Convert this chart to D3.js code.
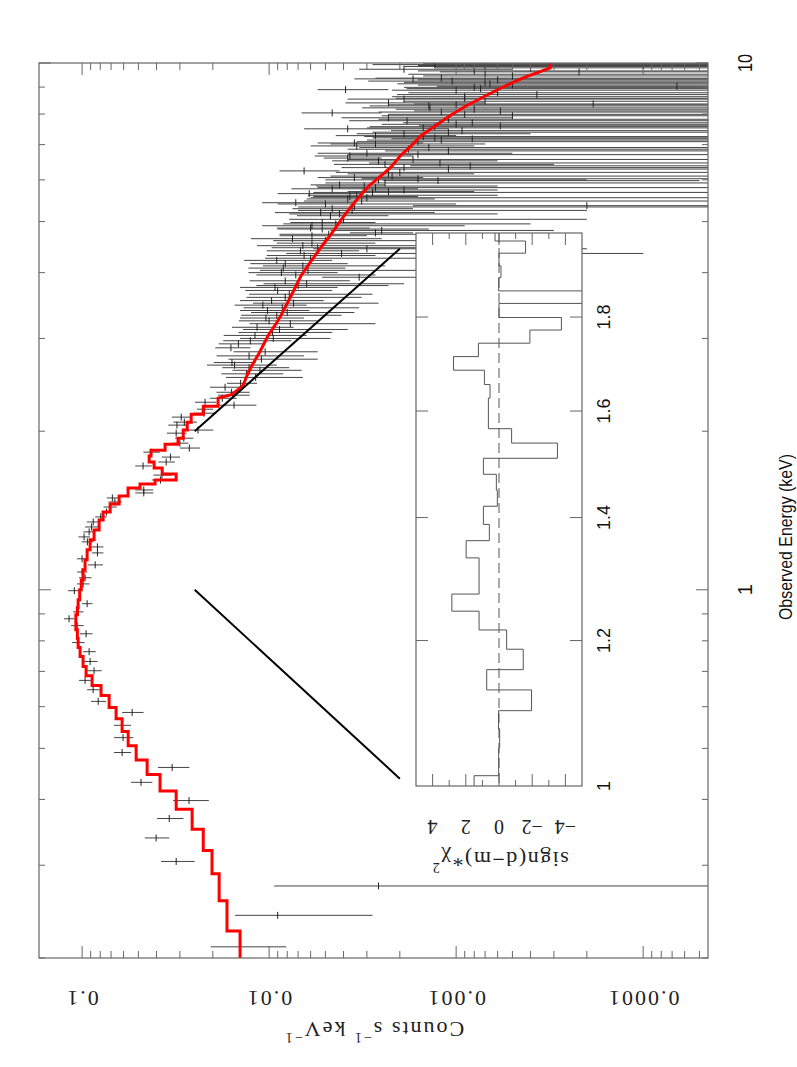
<!DOCTYPE html>
<html>
<head>
<meta charset="utf-8">
<script src="https://cdn.jsdelivr.net/npm/d3@7"></script>
<style>
  body { margin: 0; background: #fff; }
  .serif { font-family: "Liberation Serif", "DejaVu Serif", serif; }
  .sans { font-family: "Liberation Sans", Arial, sans-serif; }
</style>
</head>
<body>
<svg width="797" height="1067"></svg>
<script>
// ---- spectrum data (keV, counts s-1 keV-1) ----
var energy = [
  0.210, 0.241, 0.274, 0.305, 0.338, 0.368, 0.398, 0.431, 0.460, 0.491,
  0.524, 0.553, 0.585, 0.614, 0.646, 0.673, 0.702, 0.731, 0.763, 0.794,
  0.825, 0.855, 0.881, 0.908, 0.941, 0.996, 1.026, 1.054, 1.081, 1.115,
  1.145, 1.175, 1.206, 1.233, 1.260, 1.288, 1.316, 1.345, 1.375, 1.405,
  1.436, 1.468, 1.494, 1.527, 1.547, 1.616, 1.651, 1.718, 1.748, 1.786,
  1.825, 1.858, 1.898, 1.940, 1.983, 2.010, 2.054, 2.081, 2.127, 2.164,
  2.202, 2.241, 2.270, 2.310, 2.341, 2.371, 2.424, 2.466,
  2.57, 2.61, 2.67, 2.70, 2.78, 2.88, 2.93, 2.97, 3.04, 3.08,
  3.15, 3.20, 3.28, 3.32, 3.39, 3.47, 3.54, 3.59, 3.70, 3.75,
  3.81, 3.86, 3.92, 4.00, 4.08, 4.16, 4.22, 4.31, 4.35, 4.40,
  4.44, 4.50, 4.55, 4.64, 4.70, 4.76, 4.81, 4.86, 4.91, 4.98,
  5.13, 5.20, 5.29, 5.36, 5.40,
  5.43, 5.52, 5.58, 5.65, 5.70, 5.74, 5.77, 5.87, 5.98, 6.03,
  6.06, 6.16, 6.24, 6.29, 6.38, 6.46, 6.52, 6.60, 6.66, 6.74,
  6.81, 6.96, 7.02, 7.05, 7.18, 7.21, 7.28, 7.34, 7.44, 7.50,
  7.53, 7.60, 7.70, 7.77, 7.87, 7.94, 8.04, 8.11, 8.22, 8.29,
  8.36, 8.40, 8.54, 8.57, 8.71, 8.88, 8.90, 8.94, 9.03, 9.13,
  9.24, 9.33, 9.36, 9.62, 9.66, 9.73, 9.85, 9.89, 9.93,
  // narrower bins in between, above 2.5 keV
  2.53, 2.64, 2.74, 2.83, 3.00, 3.12, 3.24, 3.36, 3.43, 3.50,
  3.64, 3.78, 3.96, 4.04, 4.12, 4.26, 4.46, 4.60, 4.73, 4.84,
  4.95, 5.05, 5.17, 5.25, 5.33,
  5.47, 5.55, 5.61, 5.68, 5.80, 5.84, 5.92, 6.00, 6.10, 6.20,
  6.33, 6.42, 6.56, 6.70, 6.86, 6.91, 7.09, 7.14, 7.25, 7.39,
  7.57, 7.65, 7.82, 7.99, 8.07, 8.17, 8.33, 8.46, 8.63, 8.78,
  8.99, 9.08, 9.19, 9.29, 9.45, 9.52, 9.79, 9.97
];
var rate = [
  0.0143, 0.0090, 0.0026, 0.0314, 0.0402, 0.0342, 0.0268, 0.0484, 0.0330, 0.0611,
  0.0604, 0.0611, 0.0540, 0.0820, 0.0873, 0.0964, 0.0863, 0.0906, 0.0917, 0.1050,
  0.0952, 0.1063, 0.1174, 0.1050, 0.0940, 0.1100, 0.0988, 0.0964, 0.1000, 0.0851,
  0.1000, 0.0828, 0.0828, 0.0937, 0.0976, 0.0917, 0.0891, 0.0872, 0.0795, 0.0740,
  0.0710, 0.0668, 0.0689, 0.0468, 0.0468, 0.0381, 0.0374, 0.0472, 0.0355, 0.0337,
  0.0427, 0.0267, 0.0300, 0.0286, 0.0314, 0.0240, 0.0311, 0.0284, 0.0295, 0.0223,
  0.0221, 0.0154, 0.0220, 0.0178, 0.0157, 0.0159, 0.0172, 0.0142,
  0.0132, 0.0112, 0.0153, 0.0158, 0.0128, 0.0160, 0.0146, 0.0126, 0.0119, 0.0096,
  0.0116, 0.0077, 0.0104, 0.0091, 0.0102, 0.0108, 0.0097, 0.0082, 0.0090, 0.0093,
  0.0063, 0.0082, 0.0033, 0.0086, 0.0084, 0.0082, 0.0091, 0.0065, 0.0041, 0.0068,
  0.0030, 0.0066, 0.0059, 0.0075, 0.0059, 0.0027, 0.0025, 0.0060, 0.0059, 0.0052,
  0.0047, 0.0053, 0.0046, 0.0002, 0.0050,
  0.0072, 0.0038, 0.0037, 0.0061, 0.0023, 0.0019, 0.0046, 0.0042, 0.00125, 0.0016,
  0.0035, 0.0023, 0.0065, 0.0011, 0.00084, 0.00122, 0.0026, 0.0038, 0.0037, 0.0030,
  0.0011, 0.0034, 0.0027, 0.0035, 0.00082, 0.0013, 0.0027, 0.0019, 0.00093, 0.0038,
  0.0015, 0.00058, 0.00082, 0.00183, 0.0023, 0.0005, 0.0046, 0.00058, 0.00138, 0.0014,
  0.000185, 0.0023, 0.0019, 0.0009, 0.00037, 0.0010, 0.0039, 0.00074, 0.000066, 0.00066,
  0.00105, 0.0017, 0.0012, 0.00022, 0.0008, 0.0019, 0.0007, 0.0001, 0.0013,
  0.0118, 0.0128, 0.0110, 0.0105, 0.0095, 0.0088, 0.0100, 0.0080, 0.0085, 0.0074,
  0.0078, 0.0070, 0.0072, 0.0062, 0.0066, 0.0060, 0.0055, 0.0050, 0.0048, 0.0052,
  0.0044, 0.0040, 0.0042, 0.0036, 0.0035,
  0.0032, 0.0030, 0.0034, 0.0028, 0.0027, 0.0031, 0.0024, 0.0026, 0.0022, 0.0020,
  0.0019, 0.0024, 0.0017, 0.0016, 0.0018, 0.0014, 0.0016, 0.0012, 0.0015, 0.0011,
  0.0013, 0.0010, 0.0011, 0.0009, 0.0012, 0.0008, 0.0010, 0.0007, 0.0009, 0.0006,
  0.0008, 0.0005, 0.0007, 0.0006, 0.0005, 0.0007, 0.0004, 0.0005
];
var rateErr = [
  0.0062, 0.0062, 0.0068, 0.0064, 0.0060, 0.0055, 0.0058, 0.0063, 0.0063, 0.0064,
  0.0071, 0.0064, 0.0071, 0.0075, 0.0067, 0.0074, 0.0077, 0.0080, 0.0071, 0.0080,
  0.0073, 0.0082, 0.0076, 0.0067, 0.0060, 0.0088, 0.0075, 0.0074, 0.0063, 0.0078,
  0.0065, 0.0059, 0.0059, 0.0067, 0.0070, 0.0067, 0.0073, 0.0071, 0.0056, 0.0045,
  0.0058, 0.0055, 0.0049, 0.0052, 0.0052, 0.0043, 0.0042, 0.0048, 0.0036, 0.0038,
  0.0043, 0.0033, 0.0030, 0.0032, 0.0038, 0.0041, 0.0035, 0.0041, 0.0036, 0.0031,
  0.0022, 0.0037, 0.0029, 0.0029, 0.0030, 0.0032, 0.0035, 0.0026,
  0.0048, 0.0045, 0.0062, 0.0040, 0.0063, 0.0034, 0.0040, 0.0050, 0.0056, 0.0050,
  0.0042, 0.0050, 0.0039, 0.0050, 0.0041, 0.0045, 0.0046, 0.0050, 0.0044, 0.0050,
  0.0044, 0.0045, 0.0019, 0.0043, 0.0045, 0.0044, 0.0045, 0.0038, 0.0040, 0.0035,
  0.0028, 0.0050, 0.0032, 0.0050, 0.0029, 0.0010, 0.0022, 0.0031, 0.0050, 0.0025,
  0.0024, 0.0040, 0.0029, 0.0015, 0.0040,
  0.0037, 0.0025, 0.0021, 0.0029, 0.0015, 0.0013, 0.0030, 0.0018, 0.0012, 0.0016,
  0.0020, 0.0015, 0.0023, 0.0012, 0.00092, 0.0017, 0.0020, 0.0013, 0.0020, 0.0025,
  0.0013, 0.0026, 0.0020, 0.0020, 0.0014, 0.0015, 0.0017, 0.0015, 0.0013, 0.0027,
  0.0015, 0.0010, 0.0011, 0.0019, 0.0018, 0.0020, 0.0021, 0.0011, 0.0018, 0.0015,
  0.0015, 0.0016, 0.0019, 0.0012, 0.0017, 0.0012, 0.0016, 0.0011, 0.0012, 0.0014,
  0.0019, 0.0018, 0.0015, 0.0010, 0.0008, 0.0014, 0.0012, 0.0015, 0.0015,
  0.0052, 0.0050, 0.0055, 0.0050, 0.0048, 0.0050, 0.0045, 0.0045, 0.0052, 0.0048,
  0.0050, 0.0047, 0.0045, 0.0050, 0.0042, 0.0045, 0.0042, 0.0045, 0.0040, 0.0038,
  0.0040, 0.0038, 0.0036, 0.0034, 0.0035,
  0.0033, 0.0030, 0.0028, 0.0030, 0.0028, 0.0025, 0.0026, 0.0024, 0.0025, 0.0024,
  0.0022, 0.0021, 0.0021, 0.0022, 0.0020, 0.0019, 0.0018, 0.0018, 0.0016, 0.0017,
  0.0016, 0.0015, 0.0015, 0.0014, 0.0014, 0.0013, 0.0013, 0.0012, 0.0013, 0.0012,
  0.0011, 0.0011, 0.0012, 0.0010, 0.0010, 0.0011, 0.0009, 0.0010
];

// ---- folded model ----
var modelEdges = [
  0.2, 0.225, 0.257, 0.289, 0.320, 0.351, 0.383, 0.415, 0.446, 0.475,
  0.506, 0.538, 0.569, 0.598, 0.630, 0.658, 0.687, 0.715, 0.747, 0.777,
  0.808, 0.840, 0.870, 0.897, 0.924, 0.957, 1.0, 1.044, 1.091, 1.140,
  1.191, 1.244, 1.299, 1.357, 1.405, 1.455, 1.507, 1.560, 1.588, 1.616,
  1.659, 1.702, 1.748, 1.794, 1.841, 1.890, 1.940, 2.01, 2.081, 2.154,
  2.231, 2.310, 2.39, 2.50, 2.61, 2.73, 2.85, 2.97, 3.11, 3.25,
  3.39, 3.54, 3.70, 3.86, 4.04, 4.22, 4.40, 4.60, 4.81, 5.02,
  5.25, 5.48, 5.72, 5.98, 6.24, 6.52, 6.81, 7.12, 7.44, 7.77,
  8.11, 8.47, 8.85, 9.24, 9.57, 10.0
];
var modelRate = [
  0.0143, 0.0168, 0.0185, 0.0202, 0.0225, 0.0258, 0.0314, 0.0383, 0.0449, 0.0514,
  0.0567, 0.0611, 0.0658, 0.0717, 0.0792, 0.0884, 0.0952, 0.0988, 0.1025, 0.105,
  0.106, 0.108, 0.108, 0.106, 0.105, 0.103, 0.101, 0.0988, 0.0964, 0.094,
  0.0906, 0.0863, 0.0811, 0.0772, 0.0708, 0.0634, 0.0568, 0.049, 0.0407, 0.0314,
  0.0373, 0.0412, 0.0438, 0.0428, 0.036, 0.0307, 0.0288, 0.0274, 0.0261, 0.0225,
  0.01874, 0.01578, 0.01377, 0.01311, 0.01233, 0.01146, 0.01077, 0.01012, 0.00929, 0.00863,
  0.00811, 0.00762, 0.00717, 0.00674, 0.00619, 0.00568, 0.00521, 0.00472, 0.00433, 0.00397,
  0.0036, 0.00326, 0.00292, 0.00252, 0.0022, 0.00199, 0.00174, 0.00154, 0.00129, 0.00108,
  0.000885, 0.0007, 0.000547, 0.000428, 0.000314
];
// above this energy the model bins are fine enough to read as a smooth curve
var modelStepsBelow = 2.3;

// ---- residuals for the inset, sign(d-m)*chi^2 ----
var resEdges = [
  1.0, 1.013, 1.049, 1.074, 1.099, 1.128, 1.157, 1.187, 1.216, 1.245,
  1.272, 1.331, 1.360, 1.388, 1.420, 1.449, 1.478, 1.508, 1.537, 1.565,
  1.626, 1.654, 1.684, 1.713, 1.742, 1.771, 1.799, 1.831, 1.860, 1.891,
  1.919, 1.950, 1.980, 2.0
];
var resVal = [
  1.5, 0.02, -0.04, 0.03, -1.96, 0.74, -1.46, -0.46, 1.2, 2.84,
  1.2, 1.98, 0.58, 0.94, 0.1, 0.16, 0.94, -3.52, -0.76, 0.64,
  0.54, 0.88, 2.74, 1.24, -1.86, -3.76, 0.0, -6.0, 0.02, -0.12,
  0.0, -1.6, 0.24
];

// tick labels
var rateLabels = [0.1, 0.01, 0.001, 0.0001];
var energyLabels = [1, 10];
var insetELabels = [1, 1.2, 1.4, 1.6, 1.8];
var insetRLabels = [-4, -2, 0, 2, 4];

// guide lines from the 1-2 keV band towards the inset: [rate, energy]
var guideLines = [
  [[0.025, 1.0], [0.002, 0.438]],
  [[0.025, 2.0], [0.002, 4.44]]
];

var svg = d3.select("svg");
var frameCol = "#666";

// rate runs left -> right decreasing, energy bottom -> top
var x = d3.scaleLog().domain([0.17, 4.5e-5]).range([39, 708]);
var y = d3.scaleLog().domain([0.2, 10]).range([958, 63]);

svg.append("clipPath").attr("id", "main-clip")
  .append("rect")
  .attr("x", 39).attr("y", 63).attr("width", 708 - 39).attr("height", 958 - 63);

var plot = svg.append("g").attr("clip-path", "url(#main-clip)");

// data crosses
var pts = energy.map(function(e, i) { return { e: e, r: rate[i], s: rateErr[i] }; });
plot.selectAll(".ebar")
  .data(pts)
  .enter()
  .append("line")
    .attr("class", "ebar")
    .attr("x1", function(d) { return x(d.r + d.s); })
    .attr("x2", function(d) {
      var lo = d.r - d.s;
      return lo <= x.domain()[1] ? x.range()[1] + 2 : x(lo);
    })
    .attr("y1", function(d) { return y(d.e); })
    .attr("y2", function(d) { return y(d.e); })
    .attr("stroke", "#444")
    .attr("stroke-width", 1);

plot.selectAll(".ctick")
  .data(pts)
  .enter()
  .append("line")
    .attr("class", "ctick")
    .attr("x1", function(d) { return x(d.r); })
    .attr("x2", function(d) { return x(d.r); })
    .attr("y1", function(d) { return y(d.e) - 3.5; })
    .attr("y2", function(d) { return y(d.e) + 3.5; })
    .attr("stroke", "#222")
    .attr("stroke-width", 1);

// model: steps where bins are wide, bin centres above modelStepsBelow
var stepPts = [];
modelRate.forEach(function(r, i) {
  var lo = modelEdges[i], hi = modelEdges[i + 1];
  if (lo < modelStepsBelow) {
    stepPts.push([x(r), y(lo)]);
    stepPts.push([x(r), y(hi)]);
  } else {
    stepPts.push([x(r), y(Math.sqrt(lo * hi))]);
  }
});
stepPts.push([x(modelRate[modelRate.length - 1]), y(modelEdges[modelEdges.length - 1])]);
plot.append("path")
  .attr("d", d3.line()(stepPts))
  .attr("fill", "none")
  .attr("stroke", "#ff0000")
  .attr("stroke-width", 3)
  .attr("stroke-linejoin", "miter");

// guide lines
guideLines.forEach(function(g) {
  plot.append("line")
    .attr("x1", x(g[0][0])).attr("y1", y(g[0][1]))
    .attr("x2", x(g[1][0])).attr("y2", y(g[1][1]))
    .attr("stroke", "#000")
    .attr("stroke-width", 2);
});

// frame + ticks
svg.append("rect")
  .attr("x", 39).attr("y", 63).attr("width", 708 - 39).attr("height", 958 - 63)
  .attr("fill", "none").attr("stroke", frameCol).attr("stroke-width", 1.2);

function isDecade(v) { return Math.abs(Math.log10(v) - Math.round(Math.log10(v))) < 1e-6; }

var rTicks = x.ticks();
var eTicks = y.ticks();

var tickG = svg.append("g").attr("stroke", frameCol).attr("stroke-width", 1);
rTicks.forEach(function(v) {
  var len = isDecade(v) ? 12 : 7;
  tickG.append("line").attr("x1", x(v)).attr("x2", x(v)).attr("y1", 958).attr("y2", 958 - len);
  tickG.append("line").attr("x1", x(v)).attr("x2", x(v)).attr("y1", 63).attr("y2", 63 + len);
});
eTicks.forEach(function(v) {
  var len = isDecade(v) ? 12 : 6;
  tickG.append("line").attr("y1", y(v)).attr("y2", y(v)).attr("x1", 39).attr("x2", 39 + len);
  tickG.append("line").attr("y1", y(v)).attr("y2", y(v)).attr("x1", 708).attr("x2", 708 - len);
});

// rate labels, upside down
svg.selectAll(".rlab")
  .data(rateLabels)
  .enter()
  .append("text")
    .attr("class", "rlab serif")
    .attr("transform", function(d) { return "translate(" + x(d) + ",998) rotate(180)"; })
    .attr("text-anchor", "middle")
    .attr("dominant-baseline", "central")
    .attr("font-size", 22)
    .attr("letter-spacing", 2)
    .attr("fill", "#222")
    .text(function(d) { return d3.format("")(d); });

var ct = svg.append("text")
  .attr("class", "serif")
  .attr("transform", "translate(374,1030) rotate(180)")
  .attr("text-anchor", "middle")
  .attr("dominant-baseline", "central")
  .attr("font-size", 22)
  .attr("letter-spacing", 2)
  .attr("fill", "#222");
ct.append("tspan").text("Counts s");
ct.append("tspan").attr("baseline-shift", "super").attr("font-size", 14).text("\u22121");
ct.append("tspan").text(" keV");
ct.append("tspan").attr("baseline-shift", "super").attr("font-size", 14).text("\u22121");

// energy labels, rotated
svg.selectAll(".elab")
  .data(energyLabels)
  .enter()
  .append("text")
    .attr("class", "elab sans")
    .attr("transform", function(d) { return "translate(745," + y(d) + ") rotate(-90)"; })
    .attr("text-anchor", "middle")
    .attr("dominant-baseline", "central")
    .attr("font-size", 20)
    .attr("textLength", function(d) { return d < 10 ? null : 18; })
    .attr("lengthAdjust", "spacingAndGlyphs")
    .attr("fill", "#111")
    .text(function(d) { return d; });

svg.append("text")
  .attr("class", "sans")
  .attr("transform", "translate(785,537) rotate(-90)")
  .attr("text-anchor", "middle")
  .attr("dominant-baseline", "central")
  .attr("font-size", 19)
  .attr("textLength", 166)
  .attr("lengthAdjust", "spacingAndGlyphs")
  .attr("fill", "#111")
  .text("Observed Energy (keV)");

// ---- inset ----
var ix = d3.scaleLinear().domain([5, -5]).range([416, 582]);
var iy = d3.scaleLog().domain([1, 2]).range([786, 233]);

svg.append("rect")
  .attr("x", 416).attr("y", 233).attr("width", 582 - 416).attr("height", 786 - 233)
  .attr("fill", "#fff").attr("stroke", "none");

svg.append("clipPath").attr("id", "inset-clip")
  .append("rect")
  .attr("x", 416).attr("y", 233).attr("width", 582 - 416).attr("height", 786 - 233);

var inset = svg.append("g").attr("clip-path", "url(#inset-clip)");

inset.append("line")
  .attr("x1", ix(0)).attr("x2", ix(0)).attr("y1", 233).attr("y2", 786)
  .attr("stroke", "#555").attr("stroke-width", 1)
  .attr("stroke-dasharray", "10,5");

var resPts = [];
resVal.forEach(function(v, i) {
  resPts.push([ix(v), iy(resEdges[i])]);
  resPts.push([ix(v), iy(resEdges[i + 1])]);
});
inset.append("path")
  .attr("d", d3.line()(resPts))
  .attr("fill", "none")
  .attr("stroke", "#555")
  .attr("stroke-width", 1);

svg.append("rect")
  .attr("x", 416).attr("y", 233).attr("width", 582 - 416).attr("height", 786 - 233)
  .attr("fill", "none").attr("stroke", frameCol).attr("stroke-width", 1.2);

var itick = svg.append("g").attr("stroke", frameCol).attr("stroke-width", 1);
d3.range(-4, 5).forEach(function(v) {
  var len = v % 2 === 0 ? 12 : 6;
  itick.append("line").attr("x1", ix(v)).attr("x2", ix(v)).attr("y1", 786).attr("y2", 786 - len);
  itick.append("line").attr("x1", ix(v)).attr("x2", ix(v)).attr("y1", 233).attr("y2", 233 + len);
});
insetELabels.slice(1).forEach(function(v) {
  itick.append("line").attr("y1", iy(v)).attr("y2", iy(v)).attr("x1", 416).attr("x2", 428);
  itick.append("line").attr("y1", iy(v)).attr("y2", iy(v)).attr("x1", 582).attr("x2", 570);
});

svg.selectAll(".ielab")
  .data(insetELabels)
  .enter()
  .append("text")
    .attr("class", "ielab sans")
    .attr("transform", function(d) { return "translate(604," + iy(d) + ") rotate(-90)"; })
    .attr("text-anchor", "middle")
    .attr("dominant-baseline", "central")
    .attr("font-size", 18)
    .attr("fill", "#111")
    .text(function(d) { return d; });

svg.selectAll(".irlab")
  .data(insetRLabels)
  .enter()
  .append("text")
    .attr("class", "irlab serif")
    .attr("transform", function(d) { return "translate(" + ix(d) + ",827) rotate(180)"; })
    .attr("text-anchor", "middle")
    .attr("dominant-baseline", "central")
    .attr("font-size", 20)
    .attr("fill", "#222")
    .text(function(d) { return d < 0 ? "\u2212" + Math.abs(d) : d; });

var rl = svg.append("text")
  .attr("class", "serif")
  .attr("transform", "translate(500,860) rotate(180)")
  .attr("text-anchor", "middle")
  .attr("dominant-baseline", "central")
  .attr("font-size", 22)
  .attr("letter-spacing", 1.5)
  .attr("fill", "#222");
rl.append("tspan").text("sign(d\u2212m)*\u03c7");
rl.append("tspan").attr("baseline-shift", "super").attr("font-size", 14).text("2");
</script>
</body>
</html>
